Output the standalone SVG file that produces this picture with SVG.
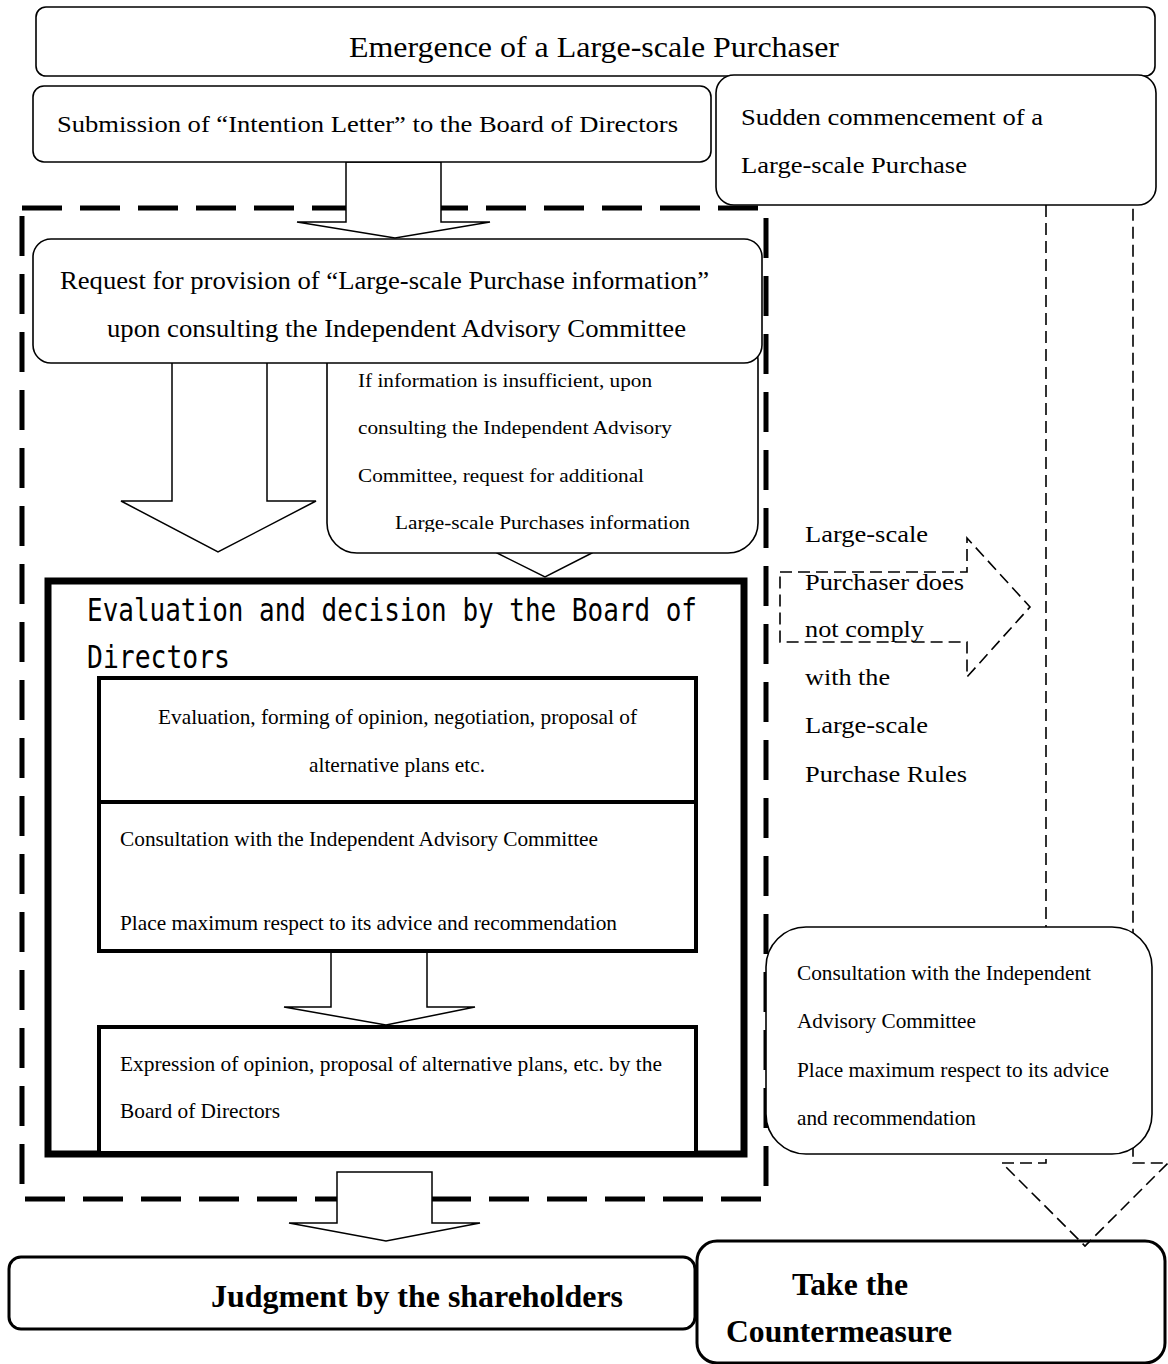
<svg xmlns="http://www.w3.org/2000/svg" width="1168" height="1364" viewBox="0 0 1168 1364">
<style>
.box{fill:#fff;stroke:#000;stroke-width:1.6}
.arrow{fill:#fff;stroke:#000;stroke-width:1.5;stroke-linejoin:miter}
.dash{fill:none;stroke:#000;stroke-width:1.6;stroke-dasharray:12 6}
.t{font-family:"Liberation Serif","Times New Roman",serif;fill:#000}
.b{font-family:"Liberation Serif","Times New Roman",serif;font-weight:bold;fill:#000}
.g{font-family:"DejaVu Sans Mono","Liberation Mono",monospace;fill:#000}
</style>
<defs>
<clipPath id="infoClip"><rect x="327" y="355" width="432" height="177"/></clipPath>
</defs>

<g id="frame">
<rect x="22" y="208" width="744" height="991" fill="none" stroke="#000" stroke-width="5" stroke-dasharray="40 18"/>
</g>

<g id="connectors">
<polygon class="arrow" points="346,162 441,162 441,222 490,222 395,238 297,222 346,222"/>
<polygon class="arrow" points="497,540 592,540 592,553 545,577 497,553"/>
<polygon class="arrow" points="172,362 267,362 267,501 316,501 218,552 121,501 172,501"/>
<polygon class="arrow" points="331,950 427,950 427,1007 475,1007 386,1025 284,1007 331,1007"/>
<polygon class="arrow" points="337,1172 432,1172 432,1223 480,1223 386,1241 289,1223 337,1223"/>
<polyline class="dash" points="1046,205 1046,1163 1002,1163 1085,1246 1168,1163 1133,1163 1133,205"/>
<polygon class="dash" points="780,572 967,572 967,538 1030,607 967,677 967,642 780,642"/>
</g>

<g id="n-emergence">
<rect class="box" x="36" y="7" width="1119" height="69" rx="10"/>
<text class="t" x="349" y="57" font-size="29" textLength="490" lengthAdjust="spacingAndGlyphs">Emergence of a Large-scale Purchaser</text>
</g>

<g id="n-submission">
<rect class="box" x="33" y="86" width="678" height="76" rx="11"/>
<text class="t" x="57" y="132" font-size="24" textLength="621" lengthAdjust="spacingAndGlyphs">Submission of “Intention Letter” to the Board of Directors</text>
</g>

<g id="n-sudden">
<rect class="box" x="716" y="75" width="440" height="130" rx="18"/>
<text class="t" x="741" y="125" font-size="24" textLength="302" lengthAdjust="spacingAndGlyphs">Sudden commencement of a</text>
<text class="t" x="741" y="173" font-size="24" textLength="226" lengthAdjust="spacingAndGlyphs">Large-scale Purchase</text>
</g>

<g id="n-info">
<rect class="box" x="327" y="330" width="431" height="223" rx="30"/>
<g clip-path="url(#infoClip)">
<text class="t" x="358" y="387" font-size="19" textLength="294" lengthAdjust="spacingAndGlyphs">If information is insufficient, upon</text>
<text class="t" x="358" y="434" font-size="19" textLength="314" lengthAdjust="spacingAndGlyphs">consulting the Independent Advisory</text>
<text class="t" x="358" y="482" font-size="19" textLength="286" lengthAdjust="spacingAndGlyphs">Committee, request for additional</text>
<text class="t" x="395" y="529" font-size="19" textLength="295" lengthAdjust="spacingAndGlyphs">Large-scale Purchases information</text>
</g>
</g>

<g id="n-request">
<rect class="box" x="33" y="239" width="729" height="124" rx="18"/>
<text class="t" x="60" y="289" font-size="25" textLength="649" lengthAdjust="spacingAndGlyphs">Request for provision of “Large-scale Purchase information”</text>
<text class="t" x="107" y="337" font-size="25" textLength="579" lengthAdjust="spacingAndGlyphs">upon consulting the Independent Advisory Committee</text>
</g>

<g id="n-evaluation">
<rect x="48" y="581" width="696" height="573" fill="none" stroke="#000" stroke-width="7"/>
<text class="g" x="87" y="621" font-size="32" textLength="610" lengthAdjust="spacingAndGlyphs">Evaluation and decision by the Board of</text>
<text class="g" x="87" y="668" font-size="32" textLength="143" lengthAdjust="spacingAndGlyphs">Directors</text>
</g>

<g id="n-evaluation-steps">
<rect x="99" y="678" width="597" height="273" fill="#fff" stroke="#000" stroke-width="4"/>
<line x1="99" y1="802" x2="696" y2="802" stroke="#000" stroke-width="4"/>
<text class="t" x="158" y="724" font-size="21" textLength="479" lengthAdjust="spacingAndGlyphs">Evaluation, forming of opinion, negotiation, proposal of</text>
<text class="t" x="309" y="772" font-size="21" textLength="176" lengthAdjust="spacingAndGlyphs">alternative plans etc.</text>
<text class="t" x="120" y="846" font-size="21" textLength="478" lengthAdjust="spacingAndGlyphs">Consultation with the Independent Advisory Committee</text>
<text class="t" x="120" y="930" font-size="21" textLength="497" lengthAdjust="spacingAndGlyphs">Place maximum respect to its advice and recommendation</text>
</g>

<g id="n-expression">
<polyline points="99,1151 99,1027 696,1027 696,1151" fill="#fff" stroke="#000" stroke-width="4"/>
<text class="t" x="120" y="1071" font-size="21" textLength="542" lengthAdjust="spacingAndGlyphs">Expression of opinion, proposal of alternative plans, etc. by the</text>
<text class="t" x="120" y="1118" font-size="21" textLength="160" lengthAdjust="spacingAndGlyphs">Board of Directors</text>
</g>

<g id="n-noncomply">
<text class="t" x="805" y="542" font-size="24" textLength="123" lengthAdjust="spacingAndGlyphs">Large-scale</text>
<text class="t" x="805" y="590" font-size="24" textLength="159" lengthAdjust="spacingAndGlyphs">Purchaser does</text>
<text class="t" x="805" y="637" font-size="24" textLength="119" lengthAdjust="spacingAndGlyphs">not comply</text>
<text class="t" x="805" y="685" font-size="24" textLength="85" lengthAdjust="spacingAndGlyphs">with the</text>
<text class="t" x="805" y="733" font-size="24" textLength="123" lengthAdjust="spacingAndGlyphs">Large-scale</text>
<text class="t" x="805" y="782" font-size="24" textLength="162" lengthAdjust="spacingAndGlyphs">Purchase Rules</text>
</g>

<g id="n-consult">
<rect class="box" x="766" y="927" width="386" height="227" rx="40"/>
<text class="t" x="797" y="980" font-size="21" textLength="294" lengthAdjust="spacingAndGlyphs">Consultation with the Independent</text>
<text class="t" x="797" y="1028" font-size="21" textLength="179" lengthAdjust="spacingAndGlyphs">Advisory Committee</text>
<text class="t" x="797" y="1077" font-size="21" textLength="312" lengthAdjust="spacingAndGlyphs">Place maximum respect to its advice</text>
<text class="t" x="797" y="1125" font-size="21" textLength="179" lengthAdjust="spacingAndGlyphs">and recommendation</text>
</g>

<g id="n-judgment">
<rect x="9" y="1257" width="686" height="72" rx="12" fill="#fff" stroke="#000" stroke-width="3"/>
<text class="b" x="211" y="1307" font-size="31" textLength="412" lengthAdjust="spacingAndGlyphs">Judgment by the shareholders</text>
</g>

<g id="n-countermeasure">
<rect x="697" y="1241" width="468" height="122" rx="20" fill="none" stroke="#000" stroke-width="3"/>
<text class="b" x="792" y="1295" font-size="31" textLength="116" lengthAdjust="spacingAndGlyphs">Take the</text>
<text class="b" x="726" y="1342" font-size="31" textLength="226" lengthAdjust="spacingAndGlyphs">Countermeasure</text>
</g>
</svg>
